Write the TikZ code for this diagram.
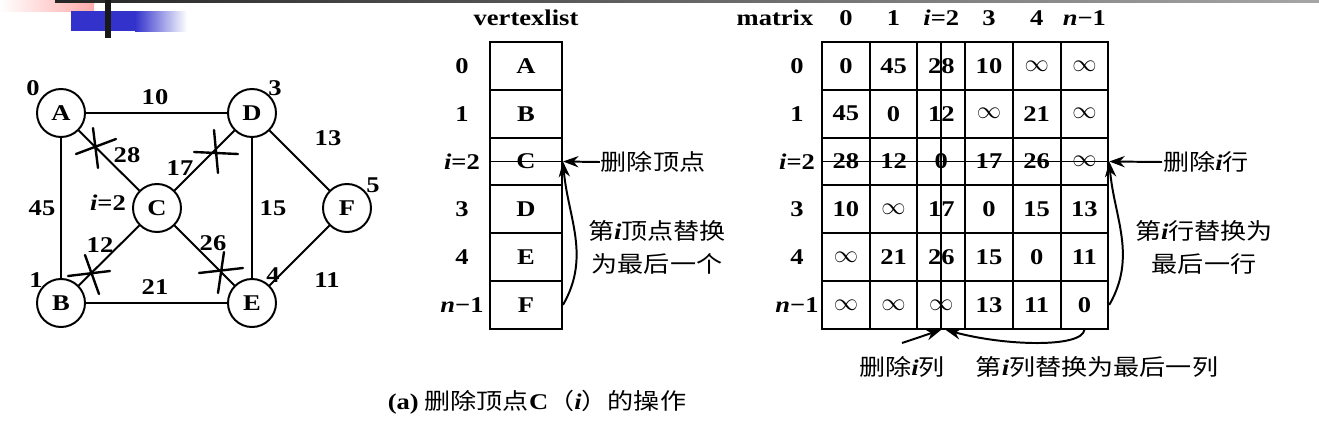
\documentclass[tikz,border=0pt]{standalone}
\usepackage{fontspec}
\setmainfont{Liberation Serif}[FakeStretch=1.18]
\newfontfamily\cjk{Noto Sans CJK SC}[FakeStretch=1.16]
\usepackage{tikz}
\usetikzlibrary{arrows.meta}
\newcommand{\txtsize}{\fontsize{16}{19}\selectfont}
\newcommand{\ivar}{{\rmfamily\bfseries\itshape i}}
\newcommand{\nvar}{{\rmfamily\bfseries\itshape n}}
\tikzset{lbl/.style = {font=\txtsize\bfseries, inner sep=0pt},
         cn/.style = {font=\txtsize\cjk, inner sep=0pt, align=center},
         vtx/.style = {circle, draw, line width=1.4pt, minimum size=1.2cm,
                       inner sep=0pt, font=\txtsize\bfseries},
         vcell/.style = {draw, line width=1.4pt, minimum width=1.8cm,
                         minimum height=1.195cm, font=\txtsize\bfseries},
         mcell/.style = {draw, line width=1.4pt, minimum width=1.1925cm,
                         minimum height=1.195cm, font=\txtsize\bfseries},
         arr/.style = {-{Stealth[length=11pt, width=8pt]}, line width=1.4pt},
         cutmk/.style = {line width=1.7pt, line cap=round}}
\definecolor{hdblue}{RGB}{51, 51, 204}
\definecolor{hdpink}{RGB}{255, 170, 170}

\begin{document}
\begin{tikzpicture}[x=0.025cm, y=-0.025cm, line width=1.4pt]
    \useasboundingbox (0, 0) rectangle (1319, 435);

    % slide header
    \shade [left color=white, right color=hdpink] (0, 0) rectangle (94, 11);
    \shade [left color=black!85, right color=black!35] (55, 0) rectangle (1319, 2);
    \fill [hdblue] (71, 11) rectangle (135, 31);
    \shade [left color=hdblue, right color=white] (135, 11) rectangle (187, 31);
    \fill [black!90] (105, 0) rectangle (111, 38);

    % graph
    \node [vtx] (A) at (61, 113) {A};
    \node [vtx] (D) at (252, 113) {D};
    \node [vtx] (C) at (157, 208) {C};
    \node [vtx] (F) at (347, 208) {F};
    \node [vtx] (B) at (61, 303) {B};
    \node [vtx] (E) at (252, 303) {E};
    \draw (A) -- (D) (A) -- (B) (A) -- (C) (D) -- (C) (D) -- (E) (D) -- (F)
          (C) -- (B) (C) -- (E) (B) -- (E) (E) -- (F);
    \node [lbl] at (33, 88) {0};
    \node [lbl] at (275, 88) {3};
    \node [lbl] at (373, 185) {5};
    \node [lbl] at (36, 280) {1};
    \node [lbl] at (273, 275) {4};
    \node [lbl] at (108, 203) {\ivar=2};
    \node [lbl] at (155, 97) {10};
    \node [lbl] at (127, 155) {28};
    \node [lbl] at (180, 168) {17};
    \node [lbl] at (42, 208) {45};
    \node [lbl] at (273, 208) {15};
    \node [lbl] at (328, 138) {13};
    \node [lbl] at (100, 245) {12};
    \node [lbl] at (213, 243) {26};
    \node [lbl] at (155, 287) {21};
    \node [lbl] at (327, 280) {11};
    % cut marks
    \draw [cutmk] (76, 154) -- (116, 139) (93, 128) -- (98, 168);
    \draw [cutmk] (194, 152) -- (238, 154) (214, 130) -- (218, 173);
    \draw [cutmk] (68, 276) -- (110, 271) (85, 255) -- (99, 294);
    \draw [cutmk] (199, 273) -- (243, 268) (224, 252) -- (218, 293);

    % vertexlist
    \node [lbl] at (526, 18) {vertexlist};
    \foreach \nm/\ix [count=\r from 0] in {A/0, B/1, C/{\ivar=2}, D/3, E/4, F/{\nvar−1}} {
        \node [vcell] (v\r) at (526, {65.9+47.8*\r}) {\nm};
        \node [lbl] at (462, {65.9+47.8*\r}) {\ix};
    }
    \draw (v2.west) -- (v2.east);
    \node [cn] (delv) at (653, 162) {删除顶点};
    \draw [arr] (delv.west) -- (v2.east);
    \draw [arr] (v5.east) to [out=60, in=-85] (v2.east);
    \node [cn, font=\fontsize{16}{23.5}\selectfont\cjk] at (657, 247) {第\ivar 顶点替换\\为最后一个};

    % matrix
    \node [lbl] at (775, 18) {matrix};
    \foreach \h [count=\c from 0] in {0, 1, {\ivar=2}, 3, 4, {\nvar−1}}
        \node [lbl] at ({845.9+47.7*\c}, 18) {\h};
    \foreach \h [count=\r from 0] in {0, 1, {\ivar=2}, 3, 4, {\nvar−1}}
        \node [lbl] at (797, {65.9+47.8*\r}) {\h};
    \foreach \row [count=\r from 0] in {{0,45,28,10,$\infty$,$\infty$},
                                        {45,0,12,$\infty$,21,$\infty$},
                                        {28,12,0,17,26,$\infty$},
                                        {10,$\infty$,17,0,15,13},
                                        {$\infty$,21,26,15,0,11},
                                        {$\infty$,$\infty$,$\infty$,13,11,0}} {
        \foreach \val [count=\c from 0] in \row
            \node [mcell] (m\r\c) at ({845.9+47.7*\c}, {65.9+47.8*\r}) {\val};
    }
    \draw (m02.north) -- (m52.south);
    \draw (m20.west) -- (m25.east);
    \node [cn] (delr) at (1206, 162) {删除\ivar 行};
    \draw [arr] (delr.west) -- (m25.east);
    \draw [arr] (m55.east) to [out=60, in=-85] (m25.east);
    \node [cn, font=\fontsize{16}{23.5}\selectfont\cjk] at (1204, 247) {第\ivar 行替换为\\最后一行};
    \node [cn] (delc) at (902, 367) {删除\ivar 列};
    \coordinate (dc) at (902, 343);
    \draw [arr] (dc) -- (m52.south);
    \node [cn] (repc) at (1097, 367) {第\ivar 列替换为最后一列};
    \draw [arr] (m55.south) .. controls (1082, 348) and (1005, 346) .. ([xshift=3pt]m52.south);

    % caption
    \node [cn] at (537, 402) {{\rmfamily\bfseries (a)} 删除顶点{\rmfamily\bfseries C}（\ivar）的操作};
\end{tikzpicture}
\end{document}
